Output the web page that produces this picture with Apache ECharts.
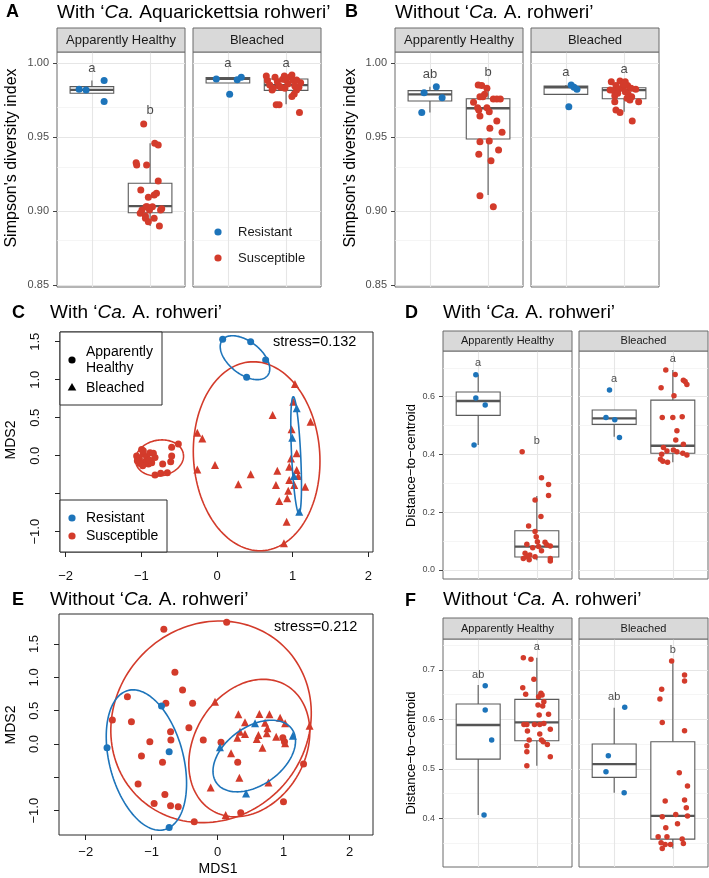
<!DOCTYPE html>
<html><head><meta charset="utf-8">
<script src="https://cdn.jsdelivr.net/npm/echarts@6/dist/echarts.min.js"></script>
<style>html,body{margin:0;padding:0;background:#fff}#c{width:709px;height:878px}</style>
</head><body><div id="c"></div>
<script>
// ---------------- DATA ----------------
// Panel A: Simpson's index, with 'Ca. A. rohweri'  ([jittered group position, value])
const A_AH_res = [[0.78,0.9824],[0.90,0.9820],[1.21,0.9883],[1.21,0.9741]];
const A_AH_sus = [[1.89,0.9589],[2.08,0.9459],[2.14,0.9447],[1.76,0.9327],[1.77,0.9312],[1.94,0.9312],[2.14,0.9204],[1.84,0.9143],[2.11,0.9120],[2.07,0.9109],[1.97,0.9093],[1.93,0.9030],[2.04,0.9030],[2.20,0.9016],[2.18,0.9007],[1.86,0.9007],[1.83,0.8985],[1.92,0.8967],[1.99,0.9007],[1.92,0.8951],[2.07,0.8951],[1.97,0.8928],[2.16,0.8899],[1.95,0.9030]];
const A_B_res = [[0.80,0.9894],[1.16,0.9888],[1.23,0.9905],[1.03,0.9790]];
const A_B_sus = [[1.66,0.9914],[1.68,0.9883],[1.72,0.9853],[1.78,0.9831],[1.81,0.9905],[1.85,0.9876],[1.88,0.9847],[1.94,0.9892],[1.97,0.9914],[2.00,0.9887],[2.03,0.9860],[2.06,0.9905],[2.10,0.9921],[2.12,0.9883],[2.15,0.9847],[2.18,0.9820],[2.22,0.9838],[2.25,0.9869],[1.98,0.9831],[1.83,0.9720],[1.88,0.9720],[2.23,0.9668],[2.14,0.9793],[2.10,0.9775],[1.76,0.9820],[1.91,0.9838],[2.18,0.9887]];
// box stats: [group, lower whisker, Q1, median, Q3, upper whisker]
const A_box_AH = [[1,0.9797,0.9797,0.9820,0.9842,0.9883],[2,0.8899,0.8989,0.9034,0.9188,0.9459]];
const A_box_B  = [[1,0.9867,0.9867,0.9894,0.9903,0.9905],[2,0.9723,0.9817,0.9853,0.9894,0.9921]];
const A_let_AH = [[1,0.9966,'a'],[2,0.9678,'b']];
const A_let_B  = [[1,1.0000,'a'],[2,1.0000,'a']];

// Panel B: Simpson's index, without 'Ca. A. rohweri'
const B_AH_res = [[0.90,0.9801],[1.11,0.9842],[1.21,0.9767],[0.86,0.9668]];
const B_AH_sus = [[1.83,0.9853],[1.89,0.9849],[1.98,0.9831],[1.94,0.9790],[1.86,0.9774],[1.75,0.9736],[1.91,0.9774],[2.09,0.9758],[2.15,0.9758],[2.21,0.9758],[1.82,0.9700],[1.84,0.9684],[1.98,0.9700],[2.02,0.9673],[1.86,0.9643],[2.15,0.9610],[2.03,0.9560],[2.24,0.9533],[1.86,0.9470],[2.02,0.9474],[1.84,0.9384],[2.18,0.9413],[2.05,0.9341],[1.86,0.9104],[2.09,0.9030]];
const B_B_res = [[1.09,0.9853],[1.14,0.9838],[1.19,0.9824],[1.05,0.9706]];
const B_B_sus = [[1.78,0.9876],[1.93,0.9880],[2.02,0.9876],[1.86,0.9849],[1.98,0.9842],[2.06,0.9849],[2.12,0.9831],[2.20,0.9824],[1.76,0.9819],[1.83,0.9813],[1.91,0.9826],[2.02,0.9808],[2.07,0.9790],[2.13,0.9774],[1.84,0.9781],[1.89,0.9797],[2.05,0.9763],[2.10,0.9752],[2.25,0.9740],[1.84,0.9740],[1.86,0.9684],[1.93,0.9668],[2.14,0.9610],[1.99,0.9858]];
const B_box_AH = [[1,0.9668,0.9745,0.9790,0.9815,0.9842],[2,0.9109,0.9488,0.9696,0.9760,0.9846]];
const B_box_B  = [[1,0.9790,0.9790,0.9838,0.9846,0.9853],[2,0.9673,0.9760,0.9819,0.9835,0.9887]];
const B_let_AH = [[1,0.9928,'ab'],[2,0.9939,'b']];
const B_let_B  = [[1,0.9939,'a'],[2,0.9961,'a']];

// Panel D: distance to centroid, with
const D_AH_res = [[0.96,0.676],[0.96,0.595],[1.12,0.571],[0.93,0.4325]];
const D_AH_sus = [[1.75,0.409],[2.08,0.319],[2.20,0.296],[2.20,0.258],[1.97,0.242],[2.07,0.185],[1.86,0.152],[1.97,0.133],[1.99,0.115],[2.01,0.098],[1.83,0.089],[2.14,0.096],[2.23,0.083],[1.93,0.077],[2.08,0.067],[1.80,0.058],[1.88,0.052],[1.97,0.046],[1.77,0.040],[1.87,0.035],[2.23,0.040],[2.23,0.031],[1.83,0.046],[2.03,0.081],[2.17,0.087]];
const D_B_res = [[0.92,0.623],[0.86,0.528],[1.01,0.520],[1.09,0.459]];
const D_B_sus = [[1.88,0.692],[2.04,0.677],[1.80,0.631],[2.18,0.657],[2.21,0.652],[2.24,0.642],[2.02,0.603],[1.82,0.528],[2.00,0.528],[2.16,0.530],[2.07,0.482],[2.05,0.450],[1.84,0.424],[2.18,0.435],[1.90,0.412],[2.01,0.415],[2.07,0.409],[1.81,0.401],[2.24,0.398],[2.17,0.404],[1.79,0.383],[1.83,0.376],[1.91,0.3725]];
const D_box_AH = [[1,0.4325,0.535,0.585,0.616,0.676],[2,0.034,0.045,0.0807,0.136,0.256]];
const D_box_B  = [[1,0.461,0.504,0.525,0.5536,0.5536],[2,0.3725,0.404,0.430,0.588,0.692]];
const D_let_AH = [[1,0.717,'a'],[2,0.4475,'b']];
const D_let_B  = [[1,0.661,'a'],[2,0.729,'a']];

// Panel F: distance to centroid, without
const F_AH_res = [[1.12,0.6683],[1.12,0.619],[1.23,0.5583],[1.10,0.4065]];
const F_AH_sus = [[1.77,0.725],[1.90,0.7216],[1.95,0.6811],[1.76,0.6642],[2.07,0.6528],[1.81,0.6507],[2.03,0.646],[2.09,0.6494],[2.12,0.6359],[2.02,0.6291],[2.10,0.6271],[1.78,0.590],[1.83,0.590],[2.04,0.6089],[2.20,0.6103],[1.96,0.590],[2.05,0.590],[2.12,0.592],[1.84,0.5765],[2.23,0.5799],[2.05,0.5704],[1.87,0.5583],[2.08,0.5583],[2.11,0.5549],[2.18,0.5495],[1.83,0.5468],[2.23,0.5246],[1.83,0.5347],[1.83,0.5063]];
const F_B_res = [[1.18,0.6244],[0.90,0.5266],[0.86,0.4942],[1.17,0.4517]];
const F_B_sus = [[1.98,0.7182],[2.20,0.6899],[2.20,0.6777],[1.81,0.6609],[1.78,0.6413],[1.82,0.594],[2.20,0.5772],[2.11,0.4922],[2.25,0.4652],[1.87,0.4348],[2.20,0.4368],[2.23,0.4213],[2.05,0.4078],[2.25,0.4045],[1.82,0.4031],[1.88,0.3808],[2.08,0.3889],[1.75,0.3626],[1.90,0.3626],[2.16,0.3579],[1.80,0.3505],[1.87,0.3471],[1.96,0.3471],[2.18,0.3491],[1.82,0.339]];
const F_box_AH = [[1,0.4065,0.5198,0.5887,0.6312,0.6696],[2,0.5063,0.557,0.594,0.6406,0.725]];
const F_box_B  = [[1,0.4517,0.4827,0.5097,0.5502,0.6237],[2,0.339,0.3579,0.4051,0.5549,0.7182]];
const F_let_AH = [[1,0.690,'ab'],[2,0.7472,'a']];
const F_let_B  = [[1,0.646,'ab'],[2,0.7405,'b']];

// Panel C: NMDS with  ([MDS1, MDS2])
const C_AH_sus = [[-0.996,0.083],[-1.062,-0.004],[-1.026,-0.035],[-0.974,0.022],[-0.930,-0.013],[-0.885,0.039],[-0.841,0.031],[-0.952,-0.079],[-1.018,-0.101],[-0.907,-0.110],[-0.863,-0.092],[-0.819,-0.022],[-0.718,-0.110],[-0.599,-0.004],[-0.599,0.110],[-0.511,0.154],[-0.612,-0.079],[-0.819,-0.254],[-0.744,-0.232],[-0.656,-0.224],[-0.974,0.066],[-1.053,-0.066],[-0.894,-0.057],[-0.982,-0.132]];
const C_AH_res = [[0.075,1.531],[0.445,1.500],[0.643,1.259],[0.392,1.031]];
const C_B_sus = [[1.030,0.943],[1.008,0.711],[0.735,0.535],[1.237,0.448],[-0.260,0.303],[-0.194,0.228],[0.986,0.347],[1.053,0.031],[0.978,-0.035],[-0.026,-0.122],[-0.260,-0.180],[0.797,-0.197],[0.955,-0.145],[1.053,-0.188],[0.445,-0.245],[0.282,-0.377],[0.779,-0.386],[0.955,-0.320],[1.074,-0.267],[1.021,-0.386],[1.166,-0.408],[0.942,-0.460],[0.929,-0.561],[0.823,-0.596],[0.920,-0.868],[0.885,-1.153]];
const C_B_res = [[1.053,0.623],[0.995,0.237],[1.017,-0.267],[1.087,-0.737]];
// ellipses: [centre MDS1, centre MDS2, semi-major, semi-minor, angle deg]
const C_ell_res = [[0.37,1.29,0.38,0.215,-38],[1.046,0.009,0.768,0.06,-87.2]];
const C_ell_sus = [[-0.76,-0.03,0.32,0.235,10],[0.524,-0.007,1.245,0.835,-86.3]];

// Panel E: NMDS without
const E_AH_sus = [[-0.816,1.722],[0.137,1.827],[-0.648,1.076],[-0.532,0.811],[-1.368,0.711],[-0.785,0.611],[-0.380,0.611],[-1.596,0.360],[-1.307,0.335],[-0.436,0.245],[-0.714,0.185],[-0.709,0.060],[-1.028,0.035],[-0.218,0.060],[0.051,0.025],[-1.155,-0.180],[-0.836,-0.275],[0.304,-0.275],[-1.206,-0.600],[-0.800,-0.756],[-0.963,-0.891],[-0.714,-0.926],[-0.598,-0.941],[-0.355,-1.166],[0.350,-1.031],[0.998,-0.866],[1.302,-0.300],[0.988,0.095],[1.013,0.035]];
const E_AH_res = [[-0.851,0.571],[-1.677,-0.055],[-0.735,-0.115],[-0.735,-1.251]];
const E_B_sus = [[-0.040,0.636],[0.314,0.445],[0.633,0.450],[0.785,0.445],[0.947,0.395],[0.415,0.325],[0.719,0.320],[1.023,0.310],[0.755,0.235],[0.339,0.185],[0.618,0.135],[0.415,0.150],[0.299,0.095],[0.593,0.075],[0.745,0.160],[0.887,0.110],[1.023,0.010],[0.679,-0.055],[0.203,-0.140],[0.329,-0.506],[0.770,-0.576],[-0.106,-0.651],[0.122,-1.066],[1.393,0.275]];
const E_B_res = [[0.035,-0.050],[0.567,0.310],[1.140,0.125],[0.431,-0.741]];
const E_ell_res = [[-1.08,-0.24,1.08,0.56,105],[0.555,-0.18,0.70,0.436,35]];
const E_ell_sus = [[-0.10,0.333,1.58,1.45,43.6],[0.48,-0.06,1.095,0.84,58.4]];

// axis ticks / ranges
const A_yRange = [0.84865, 1.00765], A_yTicks = [0.85,0.90,0.95,1.00], A_yMinor = [0.875,0.925,0.975];
const D_yRange = [-0.0312, 0.758],   D_yTicks = [0,0.2,0.4,0.6],      D_yMinor = [0.1,0.3,0.5,0.7];
const F_yRange = [0.3015, 0.7627],   F_yTicks = [0.4,0.5,0.6,0.7],    F_yMinor = [0.35,0.45,0.55,0.65,0.75];
const G_xRange = [0.4, 2.6], G_xMajor = [1,2];
const C_xRange = [-2.075, 2.062], C_yRange = [-1.267, 1.628];
const E_xRange = [-2.405, 2.355], E_yRange = [-1.365, 1.951];
const NM_xTicks = [-2,-1,0,1,2], NM_yTicks = [-1,-0.5,0,0.5,1,1.5], NM_yLabels = [-1,0,0.5,1,1.5];

// ---------------- STYLE ----------------
const FONT = '"Liberation Sans", Arial, Helvetica, sans-serif';
const BLUE = '#1D74BA', RED = '#D33B2B';
const BOX_W = 0.75;

const grids = [
  {left:57, top:52, width:128, height:235},   //0 A1
  {left:193, top:52, width:128, height:235},  //1 A2
  {left:395, top:52, width:128, height:235},  //2 B1
  {left:531, top:52, width:128, height:235},  //3 B2
  {left:60, top:332, width:313, height:220},  //4 C
  {left:443, top:351, width:129, height:228}, //5 D1
  {left:579, top:351, width:129, height:228}, //6 D2
  {left:59, top:614, width:314, height:221},  //7 E
  {left:443, top:639, width:129, height:228}, //8 F1
  {left:579, top:639, width:129, height:228}  //9 F2
].map((g,i)=>Object.assign(g,{show:true, backgroundColor:'#fff', borderColor:(i===4||i===7)?'#2a2a2a':'#6a6a6a', borderWidth:1}));

const xAxes = [], yAxes = [], series = [];

function boxPanel(gi, range, ticks, minor, dec, showY, fs){
  xAxes.push({gridIndex:gi, type:'value', min:G_xRange[0], max:G_xRange[1], show:false, axisLine:{onZero:false}});
  yAxes.push({gridIndex:gi, type:'value', min:range[0], max:range[1], show:showY,
    axisLine:{show:false, onZero:false}, splitLine:{show:false},
    axisTick:{show:true, customValues:ticks, length:4, lineStyle:{color:'#444'}},
    axisLabel:{customValues:ticks, formatter:v=>Number(v).toFixed(dec), color:'#4D4D4D', fontSize:fs, fontFamily:FONT, margin:8}});
}
function renderBox(params, api){
  const x = api.value(0);
  const lo=api.value(1), q1=api.value(2), md=api.value(3), q3=api.value(4), hi=api.value(5);
  const hw = api.size([BOX_W,0])[0]/2;
  const cx = api.coord([x,md])[0];
  const y = v=>api.coord([x,v])[1];
  const st = {stroke:'#5a5a5a', lineWidth:1.1, fill:'none'};
  return {type:'group', children:[
    {type:'line', shape:{x1:cx,y1:y(hi),x2:cx,y2:y(q3)}, style:st},
    {type:'line', shape:{x1:cx,y1:y(q1),x2:cx,y2:y(lo)}, style:st},
    {type:'rect', shape:{x:cx-hw,y:y(q3),width:2*hw,height:y(q1)-y(q3)}, style:{stroke:'#5a5a5a',lineWidth:1.1,fill:'#fff'}},
    {type:'line', shape:{x1:cx-hw,y1:y(md),x2:cx+hw,y2:y(md)}, style:{stroke:'#555',lineWidth:2.3}}
  ]};
}
function gridLines(ticks, minor){
  const d = [];
  ticks.forEach(v=>d.push({yAxis:v, lineStyle:{color:'#E6E6E6', width:1.1}}));
  minor.forEach(v=>d.push({yAxis:v, lineStyle:{color:'#F0F0F0', width:0.7}}));
  G_xMajor.forEach(v=>d.push({xAxis:v, lineStyle:{color:'#E6E6E6', width:1.1}}));
  return {silent:true, symbol:'none', label:{show:false}, z:1, animation:false, lineStyle:{type:'solid'}, data:d};
}
function boxSeries(gi, boxes, res, sus, letters, ticks, minor, ps, lfs){
  series.push({type:'custom', xAxisIndex:gi, yAxisIndex:gi, data:boxes, renderItem:renderBox, encode:{x:0,y:[1,2,3,4,5]}, z:2, silent:true});
  series.push({type:'scatter', name:'Resistant', xAxisIndex:gi, yAxisIndex:gi, data:res, symbolSize:ps, itemStyle:{color:BLUE, opacity:1}, z:3, markLine:gridLines(ticks, minor)});
  series.push({type:'scatter', name:'Susceptible', xAxisIndex:gi, yAxisIndex:gi, data:sus, symbolSize:ps, itemStyle:{color:RED, opacity:1}, z:3});
  series.push({type:'scatter', xAxisIndex:gi, yAxisIndex:gi, data:letters, symbolSize:0.01, z:4, silent:true,
    label:{show:true, position:'inside', formatter:p=>p.data[2], color:'#1a1a1a', fontSize:lfs, fontFamily:FONT}});
}
function nmdsPanel(gi, xr, yr, xMargin, yMargin){
  xAxes.push({gridIndex:gi, type:'value', min:xr[0], max:xr[1], position:'bottom', axisLine:{show:false, onZero:false}, splitLine:{show:false},
    axisTick:{show:true, customValues:NM_xTicks, length:5, lineStyle:{color:'#222'}},
    axisLabel:{customValues:NM_xTicks, formatter:v=>(v<0?'\u2212':'')+Math.abs(v).toFixed(0), color:'#111', fontSize:13, fontFamily:FONT, margin:xMargin}});
  yAxes.push({gridIndex:gi, type:'value', min:yr[0], max:yr[1], position:'left', axisLine:{show:false, onZero:false}, splitLine:{show:false},
    axisTick:{show:true, customValues:NM_yTicks, length:5, lineStyle:{color:'#222'}},
    axisLabel:{customValues:NM_yLabels, rotate:90, formatter:v=>(v<0?'\u2212':'')+Math.abs(v).toFixed(1), color:'#111', fontSize:13, fontFamily:FONT, margin:yMargin}});
}
function ellRender(color){
  return function(params, api){
    const cx=api.value(0), cy=api.value(1), a=api.value(2), b=api.value(3), t=api.value(4)*Math.PI/180;
    const pts=[];
    for(let k=0;k<=144;k++){
      const s=k/144*2*Math.PI, u=a*Math.cos(s), v=b*Math.sin(s);
      pts.push(api.coord([cx+u*Math.cos(t)-v*Math.sin(t), cy+u*Math.sin(t)+v*Math.cos(t)]));
    }
    return {type:'polyline', shape:{points:pts}, style:{stroke:color, fill:'none', lineWidth:1.6}};
  };
}
function nmdsSeries(gi, ahSus, ahRes, bSus, bRes, ellRes, ellSus){
  series.push({type:'scatter', xAxisIndex:gi, yAxisIndex:gi, data:ahSus, symbol:'circle', symbolSize:7, itemStyle:{color:RED,opacity:1}, z:3});
  series.push({type:'scatter', xAxisIndex:gi, yAxisIndex:gi, data:ahRes, symbol:'circle', symbolSize:7, itemStyle:{color:BLUE,opacity:1}, z:3});
  series.push({type:'scatter', xAxisIndex:gi, yAxisIndex:gi, data:bSus, symbol:'triangle', symbolSize:8, itemStyle:{color:RED,opacity:1}, z:3});
  series.push({type:'scatter', xAxisIndex:gi, yAxisIndex:gi, data:bRes, symbol:'triangle', symbolSize:8, itemStyle:{color:BLUE,opacity:1}, z:3});
  series.push({type:'custom', xAxisIndex:gi, yAxisIndex:gi, data:ellSus, renderItem:ellRender(RED), encode:{x:0,y:1}, z:4, silent:true});
  series.push({type:'custom', xAxisIndex:gi, yAxisIndex:gi, data:ellRes, renderItem:ellRender(BLUE), encode:{x:0,y:1}, z:4, silent:true});
}

// Axes (order = grid index)
boxPanel(0, A_yRange, A_yTicks, A_yMinor, 2, true, 11);
boxPanel(1, A_yRange, A_yTicks, A_yMinor, 2, false, 11);
boxPanel(2, A_yRange, A_yTicks, A_yMinor, 2, true, 11);
boxPanel(3, A_yRange, A_yTicks, A_yMinor, 2, false, 11);
nmdsPanel(4, C_xRange, C_yRange, 18, 18);
boxPanel(5, D_yRange, D_yTicks, D_yMinor, 1, true, 9);
boxPanel(6, D_yRange, D_yTicks, D_yMinor, 1, false, 9);
nmdsPanel(7, E_xRange, E_yRange, 11, 18);
boxPanel(8, F_yRange, F_yTicks, F_yMinor, 1, true, 9);
boxPanel(9, F_yRange, F_yTicks, F_yMinor, 1, false, 9);

boxSeries(0, A_box_AH, A_AH_res, A_AH_sus, A_let_AH, A_yTicks, A_yMinor, 7, 13);
boxSeries(1, A_box_B,  A_B_res,  A_B_sus,  A_let_B,  A_yTicks, A_yMinor, 7, 13);
boxSeries(2, B_box_AH, B_AH_res, B_AH_sus, B_let_AH, A_yTicks, A_yMinor, 7, 13);
boxSeries(3, B_box_B,  B_B_res,  B_B_sus,  B_let_B,  A_yTicks, A_yMinor, 7, 13);
nmdsSeries(4, C_AH_sus, C_AH_res, C_B_sus, C_B_res, C_ell_res, C_ell_sus);
boxSeries(5, D_box_AH, D_AH_res, D_AH_sus, D_let_AH, D_yTicks, D_yMinor, 5.5, 11);
boxSeries(6, D_box_B,  D_B_res,  D_B_sus,  D_let_B,  D_yTicks, D_yMinor, 5.5, 11);
nmdsSeries(7, E_AH_sus, E_AH_res, E_B_sus, E_B_res, E_ell_res, E_ell_sus);
boxSeries(8, F_box_AH, F_AH_res, F_AH_sus, F_let_AH, F_yTicks, F_yMinor, 5.5, 11);
boxSeries(9, F_box_B,  F_B_res,  F_B_sus,  F_let_B,  F_yTicks, F_yMinor, 5.5, 11);

// ---------------- TEXT / DECORATION ----------------
const RICH = sz => ({i:{fontStyle:'italic', fontFamily:FONT, fontSize:sz, fill:'#000'}});
function T(x, y, text, o){
  o = o || {};
  const st = {text:text, fontFamily:FONT, fontSize:o.size||13, fill:o.color||'#000', textAlign:o.align||'left', textVerticalAlign:'middle', fontWeight:o.weight||'normal'};
  if (o.rich) st.rich = o.rich;
  return {type:'text', x:x, y:y, rotation:o.rot||0, style:st, silent:true, z:20};
}
function strip(x, y, w, h, label, fs){
  return [
    {type:'rect', shape:{x:x, y:y, width:w, height:h}, style:{fill:'#D9D9D9', stroke:'#6a6a6a', lineWidth:1}, silent:true, z:10},
    T(x+w/2, y+h/2, label, {size:fs, align:'center', color:'#1A1A1A'})
  ];
}
const R90 = Math.PI/2;
const gfx = [].concat(
  strip(57,28,128,24,'Apparently Healthy',13), strip(193,28,128,24,'Bleached',13),
  strip(395,28,128,24,'Apparently Healthy',13), strip(531,28,128,24,'Bleached',13),
  strip(443,331,129,20,'Apparently Healthy',11), strip(579,331,129,20,'Bleached',11),
  strip(443,618,129,21,'Apparently Healthy',11), strip(579,618,129,21,'Bleached',11),
  [
    T(6,12,'A',{weight:'bold',size:18}), T(345,12,'B',{weight:'bold',size:18}),
    T(12,313,'C',{weight:'bold',size:18}), T(405,313,'D',{weight:'bold',size:18}),
    T(12,600,'E',{weight:'bold',size:18}), T(405,601,'F',{weight:'bold',size:18}),
    T(57,12.5,'With \u2018{i|Ca.} Aquarickettsia rohweri\u2019',{size:19,rich:RICH(19)}),
    T(395,12.5,'Without \u2018{i|Ca.} A. rohweri\u2019',{size:19,rich:RICH(19)}),
    T(50,313,'With \u2018{i|Ca.} A. rohweri\u2019',{size:19,rich:RICH(19)}),
    T(443,313,'With \u2018{i|Ca.} A. rohweri\u2019',{size:19,rich:RICH(19)}),
    T(50,600,'Without \u2018{i|Ca.} A. rohweri\u2019',{size:19,rich:RICH(19)}),
    T(443,600,'Without \u2018{i|Ca.} A. rohweri\u2019',{size:19,rich:RICH(19)}),
    T(12,158,"Simpson's diversity index",{rot:R90,align:'center',size:16}),
    T(351,158,"Simpson's diversity index",{rot:R90,align:'center',size:16}),
    T(411.5,465.5,'Distance\u2212to\u2212centroid',{rot:R90,align:'center',size:13}),
    T(411,753,'Distance\u2212to\u2212centroid',{rot:R90,align:'center',size:13}),
    T(11,440,'MDS2',{rot:R90,align:'center',size:14}),
    T(11,725,'MDS2',{rot:R90,align:'center',size:14}),
    T(218,869,'MDS1',{align:'center',size:14}),
    T(273,342,'stress=0.132',{size:14.5}),
    T(274,627,'stress=0.212',{size:14.5}),
    // legend in panel A
    {type:'circle', shape:{cx:218,cy:232,r:3.6}, style:{fill:BLUE}, silent:true, z:20},
    T(238,232,'Resistant',{size:13,color:'#1a1a1a'}),
    {type:'circle', shape:{cx:218,cy:258,r:3.6}, style:{fill:RED}, silent:true, z:20},
    T(238,258,'Susceptible',{size:13,color:'#1a1a1a'}),
    // legends in panel C
    {type:'rect', shape:{x:60,y:332,width:102,height:73}, style:{fill:'#fff',stroke:'#2a2a2a',lineWidth:1}, silent:true, z:15},
    {type:'circle', shape:{cx:72,cy:360,r:3.6}, style:{fill:'#000'}, silent:true, z:20},
    T(86,352,'Apparently',{size:14}), T(86,368,'Healthy',{size:14}),
    {type:'polygon', shape:{points:[[72,383],[76.3,390.5],[67.7,390.5]]}, style:{fill:'#000'}, silent:true, z:20},
    T(86,388,'Bleached',{size:14}),
    {type:'rect', shape:{x:60,y:500,width:107,height:52}, style:{fill:'#fff',stroke:'#2a2a2a',lineWidth:1}, silent:true, z:15},
    {type:'circle', shape:{cx:72,cy:518,r:3.6}, style:{fill:BLUE}, silent:true, z:20},
    T(86,518,'Resistant',{size:14}),
    {type:'circle', shape:{cx:72,cy:536,r:3.6}, style:{fill:RED}, silent:true, z:20},
    T(86,536,'Susceptible',{size:14})
  ]
);

const chart = echarts.init(document.getElementById('c'), null, {renderer:'canvas'});
chart.setOption({
  backgroundColor:'#fff', animation:false,
  textStyle:{fontFamily:FONT},
  grid:grids, xAxis:xAxes, yAxis:yAxes, series:series, graphic:{elements:gfx}
});
</script></body></html>
